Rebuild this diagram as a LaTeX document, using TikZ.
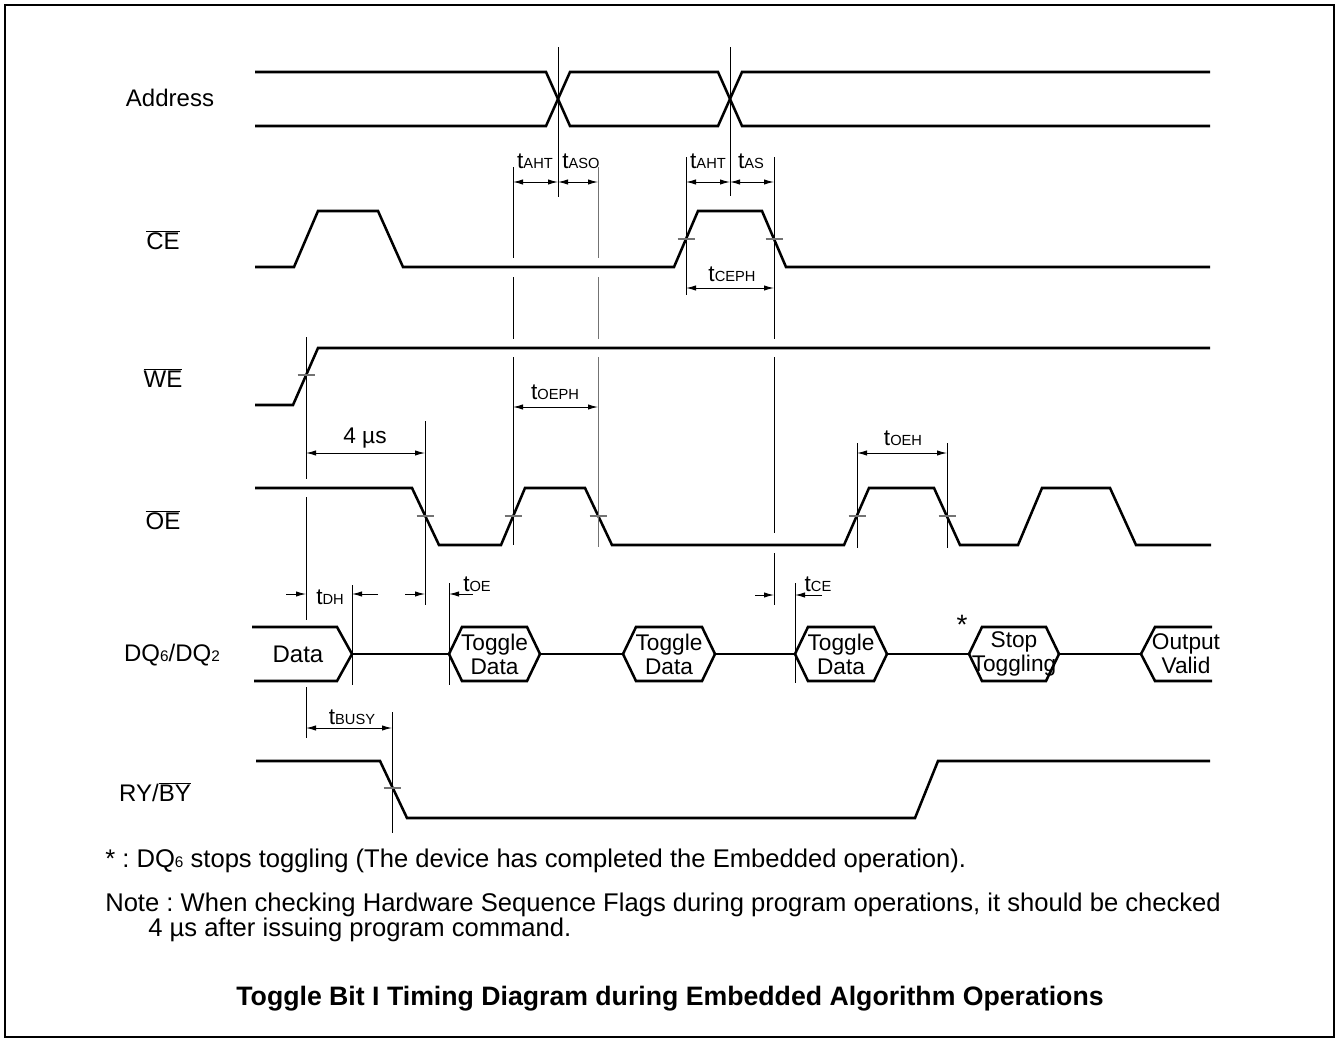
\documentclass[tikz,border=0pt]{standalone}
\usepackage{fontspec}
\setmainfont{Liberation Sans}
\usetikzlibrary{arrows.meta}
\frenchspacing
\newcommand\tsb[1]{t{\fontsize{11}{11}\selectfont #1}}
\newcommand\smalln[1]{{\fontsize{11.5}{11.5}\selectfont #1}}
\newcommand\ovl[1]{$\overline{\mbox{#1}}$}
\newcommand\hexa[2]{\draw[sig] (#1,654) -- (#1+13,627) -- (#2-13,627) -- (#2,654) -- (#2-13,681) -- (#1+13,681) -- cycle;}
\begin{document}
\begin{tikzpicture}[x=0.75pt,y=-0.75pt,
  sig/.style={line width=1.9pt, line join=miter},
  refl/.style={line width=0.7pt},
  grefl/.style={line width=0.7pt, draw=black!55},
  tck/.style={line width=0.8pt, draw=black!55},
  dimar/.style={line width=0.7pt, {Latex[length=7.5pt,width=4pt]}-{Latex[length=7.5pt,width=4pt]}},
  onear/.style={line width=0.7pt, -{Latex[length=7.5pt,width=4pt]}},
  lbl/.style={font=\fontsize{18}{19}\selectfont, inner sep=0pt},
  hlbl/.style={font=\fontsize{17}{18}\selectfont, inner sep=0pt, align=center},
  tlbl/.style={font=\fontsize{17}{18}\selectfont, inner sep=0pt},
  nlbl/.style={font=\fontsize{19.2}{20}\selectfont, inner sep=0pt, anchor=west}]
\useasboundingbox (0,0) rectangle (1340,1042);
\draw[line width=1pt] (5,5) rectangle (1334,1037);

% signal names
\node[lbl] (nAddr) at (170,98) {Address};
\node[lbl] (nCE) at (163,240) {\ovl{CE}};
\node[lbl] (nWE) at (163,378) {\ovl{WE}};
\node[lbl] (nOE) at (163,520) {\ovl{OE}};
\node[lbl] (nDQ) at (172,655) {DQ\smalln{6}/DQ\smalln{2}};
\node[lbl] (nRY) at (155,792) {RY/\ovl{BY}};

% Address
\draw[sig] (255,72) -- (546,72) -- (570,126) -- (718,126) -- (742,72) -- (1210,72);
\draw[sig] (255,126) -- (546,126) -- (570,72) -- (718,72) -- (742,126) -- (1210,126);
% CE
\draw[sig] (255,267) -- (294,267) -- (318,211) -- (378,211) -- (403,267) -- (674,267) -- (698,211) -- (762,211) -- (786,267) -- (1210,267);
% WE
\draw[sig] (255,405) -- (293,405) -- (318,348) -- (1210,348);
% OE
\draw[sig] (255,488) -- (412,488) -- (439,545) -- (501,545) -- (525,488) -- (585,488) -- (612,545) -- (844,545) -- (869,488) -- (934,488) -- (960,545) -- (1018,545) -- (1042,488) -- (1110,488) -- (1136,545) -- (1211,545);
% DQ
\draw[sig] (252,627) -- (337,627) -- (352,654) -- (337,681) -- (254,681);
\node[lbl] (dData) at (298,654) {Data};
\draw[sig] (352,654) -- (449,654);
\hexa{449}{540}
\node[hlbl] (td1) at (494.5,654) {Toggle\\Data};
\draw[sig] (540,654) -- (623,654);
\hexa{623}{715}
\node[hlbl] (td2) at (669,654) {Toggle\\Data};
\draw[sig] (715,654) -- (795,654);
\hexa{795}{887}
\node[hlbl] (td3) at (841,654) {Toggle\\Data};
\draw[sig] (887,654) -- (969,654);
\hexa{969}{1059}
\node[hlbl] (stp) at (1014,654) {Stop\\Toggling};
\node[font=\fontsize{21}{21}\selectfont, inner sep=0pt] (ast) at (962,625) {*};
\draw[sig] (1059,654) -- (1141,654);
\draw[sig] (1212,627) -- (1155,627) -- (1141,654) -- (1155,681) -- (1212,681);
\node[hlbl] (ov) at (1186,654) {Output\\Valid};
% RY/BY
\draw[sig] (256,761) -- (380,761) -- (407,818) -- (915,818) -- (938,761) -- (1210,761);

% reference lines
\draw[refl] (558,47) -- (558,197);
\draw[refl] (730,47) -- (730,196);
\draw[refl] (513,167) -- (513,258) (513,277) -- (513,339) (513,357) -- (513,545);
\draw[grefl] (598,167) -- (598,258) (598,277) -- (598,339) (598,357) -- (598,547);
\draw[refl] (686,157) -- (686,295);
\draw[refl] (774,157) -- (774,339) (774,357) -- (774,533) (774,553) -- (774,605);
\draw[refl] (306,337) -- (306,479) (306,497) -- (306,620) (306,687) -- (306,738);
\draw[refl] (425,421) -- (425,605);
\draw[refl] (352,585) -- (352,685);
\draw[refl] (449,583) -- (449,685);
\draw[refl] (795,583) -- (795,683);
\draw[refl] (857,443) -- (857,548);
\draw[refl] (947,443) -- (947,548);
\draw[refl] (392,712) -- (392,833);

% ticks
\foreach \tx/\ty in {686/239, 774/239, 306/375, 425/516, 513/516, 598/516, 857/516, 947/516, 392/788}
  \draw[tck] (\tx-8.5,\ty) -- (\tx+8.5,\ty);

% dimension arrows
\draw[dimar] (513,182) -- (558,182);
\draw[dimar] (558,182) -- (598,182);
\draw[dimar] (686,182) -- (730,182);
\draw[dimar] (730,182) -- (774,182);
\draw[dimar] (686,288) -- (774,288);
\draw[dimar] (513,407) -- (598,407);
\draw[dimar] (306,453) -- (425,453);
\draw[dimar] (857,453) -- (947,453);
\draw[dimar] (306,728) -- (392,728);
\draw[onear] (286,594) -- (306,594);
\draw[onear] (378,594) -- (352,594);
\draw[onear] (405,594) -- (425,594);
\draw[onear] (473,594) -- (449,594);
\draw[onear] (755,595) -- (774,595);
\draw[onear] (822,595) -- (795,595);

% timing labels
\node[tlbl] (lAHT1) at (535,161) {\tsb{AHT}};
\node[tlbl] (lASO) at (581,161) {\tsb{ASO}};
\node[tlbl] (lAHT2) at (708,161) {\tsb{AHT}};
\node[tlbl] (lAS) at (751,161) {\tsb{AS}};
\node[tlbl] (lCEPH) at (732,274) {\tsb{CEPH}};
\node[tlbl] (lOEPH) at (555,392) {\tsb{OEPH}};
\node[tlbl] (l4us) at (365,438) {4 µs};
\node[tlbl] (lOEH) at (903,438) {\tsb{OEH}};
\node[tlbl] (lDH) at (330,597) {\tsb{DH}};
\node[tlbl] (lOE) at (477,584) {\tsb{OE}};
\node[tlbl] (lCE) at (818,584) {\tsb{CE}};
\node[tlbl] (lBUSY) at (352,717) {\tsb{BUSY}};

% notes
\node[nlbl] (note1) at (105,861) {* : DQ\smalln{6} stops toggling (The device has completed the Embedded operation).};
\node[nlbl] (note2) at (105,905) {Note : When checking Hardware Sequence Flags during program operations, it should be checked};
\node[nlbl] (note3) at (148,930) {4 µs after issuing program command.};
\node[inner sep=0pt,font=\fontsize{20}{21}\selectfont\bfseries] (title) at (670,999) {Toggle Bit I Timing Diagram during Embedded Algorithm Operations};
\end{tikzpicture}
\end{document}
